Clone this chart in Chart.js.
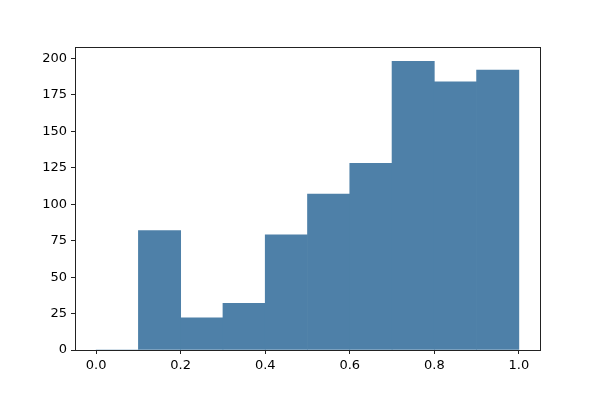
<!DOCTYPE html>
<html>
<head>
<meta charset="utf-8">
<script src="https://cdn.jsdelivr.net/npm/chart.js@4"></script>
<style>
  html, body { margin: 0; padding: 0; background: #fff; }
  #wrap { width: 600px; height: 400px; }
</style>
</head>
<body>
<div id="wrap"><canvas id="myChart"></canvas></div>
<script>
// histogram bins (left edges), width 0.1
var binStarts = [0.0, 0.1, 0.2, 0.3, 0.4, 0.5, 0.6, 0.7, 0.8, 0.9];
var counts = [0, 82, 22, 32, 79, 107, 128, 198, 184, 192];
var xTicks = [0.0, 0.2, 0.4, 0.6, 0.8, 1.0];
var yTicks = [0, 25, 50, 75, 100, 125, 150, 175, 200];

var points = binStarts.map(function (s, i) {
    return {x: s + 0.05, y: counts[i]};
});

var frame = {
    id: 'frame',
    afterDraw: function (chart) {
        var a = chart.chartArea, c = chart.ctx;
        c.save();
        c.strokeStyle = '#222';
        c.lineWidth = 1;
        c.strokeRect(Math.round(a.left) + 0.5, Math.round(a.top) + 0.5,
            Math.round(a.right - a.left), Math.round(a.bottom - a.top));
        c.restore();
    }
};

var ctx = document.getElementById("myChart");
var myChart = new Chart(ctx, {
    type: 'bar',
    data: {
        datasets: [{
            data: points,
            backgroundColor: '#4e80a8',
            borderWidth: 0,
            barPercentage: 1.0,
            categoryPercentage: 1.0
        }]
    },
    options: {
        responsive: true,
        maintainAspectRatio: false,
        animation: false,
        layout: {padding: {left: 0, top: 47, right: 60, bottom: 0}},
        plugins: {legend: {display: false}, tooltip: {enabled: false}},
        scales: {
            x: {
                type: 'linear',
                min: -0.05,
                max: 1.05,
                offset: false,
                afterBuildTicks: function (s) {
                    s.ticks = xTicks.map(function (v) { return {value: v}; });
                },
                afterFit: function (s) { s.height = 50; },
                grid: {drawOnChartArea: false, offset: false, tickLength: 4, color: '#222'},
                border: {color: '#222'},
                ticks: {
                    color: '#000',
                    font: {family: 'DejaVu Sans', size: 13},
                    padding: 4,
                    maxRotation: 0,
                    callback: function (v) { return Number(v).toFixed(1); }
                }
            },
            y: {
                min: 0,
                max: 207.9,
                afterBuildTicks: function (s) {
                    s.ticks = yTicks.map(function (v) { return {value: v}; });
                },
                afterFit: function (s) { s.width = 75; },
                grid: {drawOnChartArea: false, tickLength: 4, color: '#222'},
                border: {color: '#222'},
                ticks: {
                    color: '#000',
                    font: {family: 'DejaVu Sans', size: 13},
                    padding: 4
                }
            }
        }
    },
    plugins: [frame]
});
</script>
</body>
</html>
